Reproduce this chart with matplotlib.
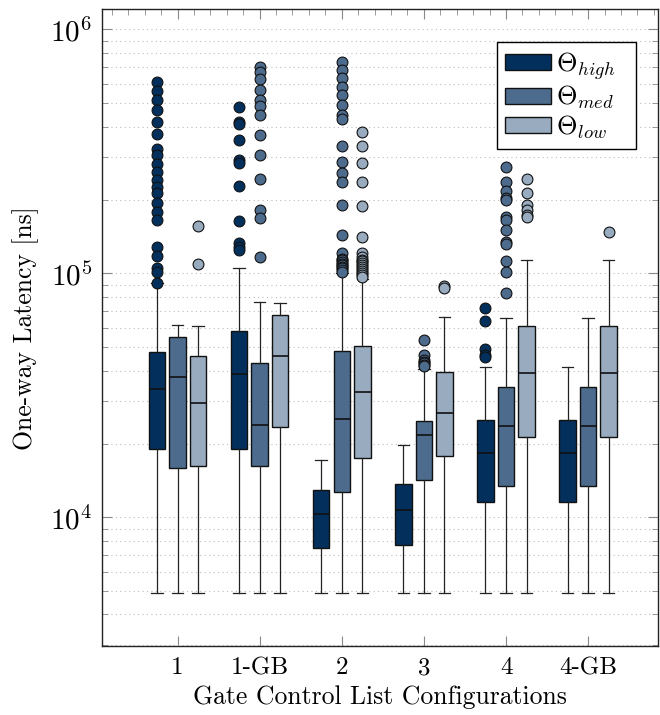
import matplotlib
matplotlib.use("Agg")
import matplotlib.pyplot as plt
from matplotlib.patches import Patch

plt.rcParams["font.family"] = "serif"
plt.rcParams["font.serif"] = ["cmr10", "DejaVu Serif"]
plt.rcParams["mathtext.fontset"] = "cm"
plt.rcParams["axes.formatter.use_mathtext"] = True
plt.rcParams["axes.unicode_minus"] = False

# Gate control list configurations and traffic classes
configs = ["1", "1-GB", "2", "3", "4", "4-GB"]
levels = [r"$\Theta_{high}$", r"$\Theta_{med}$", r"$\Theta_{low}$"]
colors = ["#022f5c", "#4c6b8d", "#98abbf"]

# box statistics, one value per configuration (ns)
high_lo = [4900, 4900, 4880, 4880, 4900, 4900]
high_q1 = [19000, 19100, 7500, 7700, 11560, 11560]
high_med = [33650, 38800, 10300, 10700, 18300, 18300]
high_q3 = [47700, 57900, 12900, 13660, 25000, 25000]
high_hi = [91000, 105000, 17200, 19800, 41400, 41400]
high_fliers = [
    [610000, 560000, 513000, 467000, 418000, 372000, 325000, 305000, 282000, 261000,
     241000, 226000, 213000, 194000, 179000, 165000, 128500, 118000, 104800, 101600, 91000],
    [479000, 418000, 409000, 354000, 291000, 284000, 228000, 164000, 133000, 128500, 124700],
    [],
    [],
    [71900, 63800, 48800, 46300, 45500],
    [],
]

med_lo = [4900, 4900, 4900, 4900, 4900, 4900]
med_q1 = [16000, 16200, 12660, 14200, 13400, 13400]
med_med = [37600, 23900, 25200, 21700, 23700, 23700]
med_q3 = [54700, 43000, 48200, 24900, 34100, 34100]
med_hi = [61600, 76300, 100000, 40500, 65400, 65400]
med_fliers = [
    [],
    [703000, 670000, 626000, 564000, 513000, 485000, 445000, 369000, 305000, 243000,
     182000, 169000, 117000],
    [737000, 681000, 630000, 582000, 538000, 490000, 446000, 428000, 333000, 287000,
     257000, 237000, 190500, 143600, 120800, 115000, 113000, 111000, 109500, 108000,
     106500, 105000, 103000, 101500],
    [53300, 46200, 44100, 43500, 42900, 42300, 41700],
    [273000, 237000, 218000, 203000, 200000, 171000, 165000, 150000, 135000, 132000,
     112600, 101000, 82800],
    [],
]

low_lo = [4900, 4900, 4900, 4900, 4900, 4900]
low_q1 = [16300, 23400, 17450, 17800, 21300, 21300]
low_med = [29300, 45900, 32700, 26900, 39000, 39000]
low_q3 = [45900, 67300, 50500, 39300, 61000, 61000]
low_hi = [61000, 75800, 95000, 66200, 113400, 113400]
low_fliers = [
    [156700, 109000],
    [],
    [380000, 333000, 284000, 237000, 189000, 141000, 121000, 116600, 114000, 112000,
     110000, 108000, 106000, 104000, 102000, 100300, 98500, 96600],
    [88700, 86800],
    [245000, 214000, 190500, 182000, 173000, 170000],
    [148000],
]

series = [
    (high_lo, high_q1, high_med, high_q3, high_hi, high_fliers),
    (med_lo, med_q1, med_med, med_q3, med_hi, med_fliers),
    (low_lo, low_q1, low_med, low_q3, low_hi, low_fliers),
]
offsets = [-0.25, 0.0, 0.25]

fig = plt.figure(figsize=(6.6, 7.15), dpi=100)
ax = fig.add_axes([0.1545, 0.0965, 0.8424, 0.8905])

for j, (lo, q1, med, q3, hi, fl) in enumerate(series):
    stats = []
    for i in range(len(configs)):
        stats.append(dict(whislo=lo[i], q1=q1[i], med=med[i], q3=q3[i],
                          whishi=hi[i], fliers=fl[i]))
    pos = [i + 1 + offsets[j] for i in range(len(configs))]
    ax.bxp(stats, positions=pos, widths=0.2, capwidths=0.14, patch_artist=True,
           manage_ticks=False,
           boxprops=dict(facecolor=colors[j], edgecolor="#111111", linewidth=1.0),
           medianprops=dict(color="#111111", linewidth=1.2),
           whiskerprops=dict(color="#222222", linewidth=0.9),
           capprops=dict(color="#222222", linewidth=0.9),
           flierprops=dict(marker="o", markerfacecolor=colors[j],
                           markeredgecolor="#111111", markersize=7.8,
                           markeredgewidth=0.8))

ax.set_yscale("log")
ax.set_ylim(2970, 1.21e6)
ax.set_xlim(0.08, 6.85)
ax.set_xticks(range(1, len(configs) + 1))
ax.set_xticklabels(configs)
ax.minorticks_on()
ax.xaxis.set_tick_params(which="minor", bottom=False, top=False)

ax.yaxis.grid(True, which="both", linestyle=(0, (1, 3)), color="#bbbbbb", linewidth=0.8)
ax.set_axisbelow(True)
ax.tick_params(which="both", direction="in", top=True, right=True, color="#8a8a8a")
ax.tick_params(axis="x", labelsize=18, pad=8)
ax.tick_params(axis="y", labelsize=21, pad=7)
ax.tick_params(which="major", length=7)
ax.tick_params(which="minor", length=4.5)
for s in ax.spines.values():
    s.set_color("#222222")
    s.set_linewidth(1.0)

ax.set_xlabel("Gate Control List Configurations", fontsize=18.5, labelpad=4)
ax.set_ylabel("One-way Latency [ns]", fontsize=18.5, labelpad=8)

handles = [Patch(facecolor=c, edgecolor="#111111", linewidth=1.0) for c in colors]
ax.legend(handles, levels, loc="upper right", bbox_to_anchor=(0.7104, 0.6, 0.25, 0.3487),
          mode="expand", borderaxespad=0, fancybox=False, edgecolor="black",
          framealpha=1, fontsize=19, handlelength=1.74, handleheight=0.57,
          labelspacing=0.08, handletextpad=0.2, borderpad=0.3)

fig.savefig("out.png", dpi=100)
